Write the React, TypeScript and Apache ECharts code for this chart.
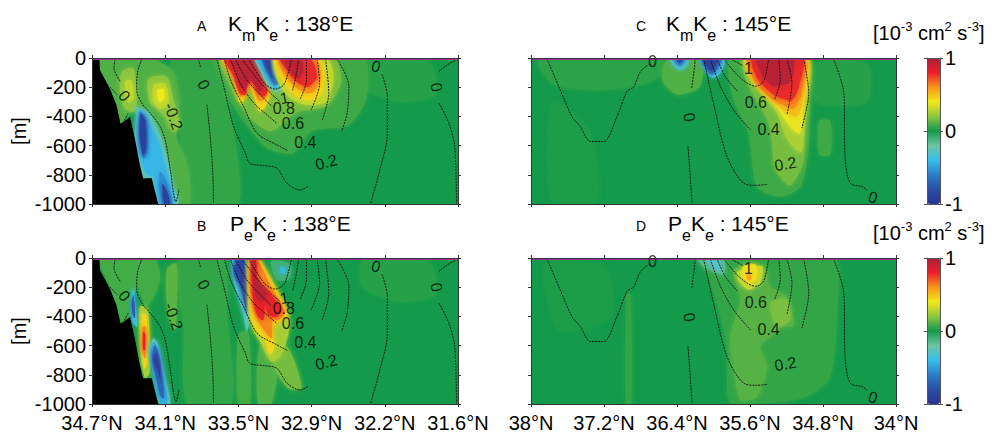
import React, { useEffect, useRef } from "react";
import * as echarts from "echarts";

const FONT = "Liberation Sans";
const xTicksA = ["34.7°N", "34.1°N", "33.5°N", "32.9°N", "32.2°N", "31.6°N"];
const xTicksC = ["38°N", "37.2°N", "36.4°N", "35.6°N", "34.8°N", "34°N"];
const colormap = ["#2e3192", "#2b4fa3", "#2a7ec6", "#38bdea", "#6cc5a0", "#139a4a", "#8cc63f", "#f3e81c", "#f7941d", "#e8202a", "#a92039"];

// Section positions are % along the section, depths in metres (positive down).
const landProfile = [0, 0, 2, 0, 2.2, 84, 4.9, 210, 6.7, 324, 7.8, 450, 10.4, 404, 11.7, 552, 13.1, 735, 14, 826, 16.3, 822, 18.1, 1000, 0, 1000];

const bandsA: [number, number[]][] = [
  [0, [0, 0, 100, 0, 100, 1000, 0, 1000]],
  [0.05, [22, 0, 34, 0, 38, 400, 40, 1000, 26, 1000, 24, 500]],
  [0.03, [74, 20, 92, 30, 94, 250, 84, 300, 74, 200]],
  [0.1, [2.2, 0, 15.8, 0, 22.2, 96, 24, 301, 23.1, 552, 25.9, 712, 26.8, 1000, 21.8, 1000, 20.4, 690, 17.7, 484, 12.2, 347, 9.9, 393, 7.8, 450, 6.7, 324, 4.9, 210, 2.2, 84]],
  [0.2, [8.1, 96, 11.3, 73, 12.2, 256, 11.8, 370, 9, 347, 7.7, 233]],
  [0.3, [9, 164, 10.8, 153, 11.3, 278, 9.9, 301]],
  [0.2, [15.4, 142, 20.4, 130, 22.2, 279, 24, 461, 22.2, 507, 19.5, 393, 15.8, 301]],
  [0.3, [16.8, 187, 20, 176, 20.9, 301, 19, 347, 16.8, 301]],
  [0.4, [17.8, 221, 19.5, 215, 19.7, 279, 18.4, 301]],
  [-0.25, [12, 336, 15.4, 370, 19, 552, 22.2, 872, 23.6, 1000, 18.1, 1000, 16.3, 822, 14, 826, 13.1, 735, 11.7, 552, 12, 393]],
  [-0.42, [13.1, 358, 14.9, 416, 18.1, 575, 20.9, 826, 22.2, 1000, 18.6, 1000, 16.8, 815, 14.9, 792, 13.6, 712, 12.5, 530]],
  [-0.6, [13.1, 370, 15, 427, 15.1, 644, 14, 690, 12.9, 552]],
  [-0.55, [18.6, 780, 20, 826, 21.8, 1000, 19.3, 1000, 18.4, 872]],
  [-0.88, [13.3, 381, 14.5, 427, 14.8, 621, 14, 667, 13.1, 552]],
  [-0.88, [19.3, 860, 20.9, 941, 21.3, 1000, 19.7, 1000]],
  [0.07, [34, 0, 74, 0, 75, 270, 70, 460, 60, 500, 55, 650, 48, 620, 42, 450, 38, 300]],
  [0.16, [35.4, 0, 66, 0, 68, 170, 64, 330, 56, 370, 49, 500, 44, 430, 40, 300]],
  [0.45, [35.4, 0, 45, 0, 46.8, 128, 48.6, 242, 47.3, 333, 45.9, 368, 44.5, 288, 43, 185, 42.3, 242, 40.9, 310, 40, 288, 38.6, 151]],
  [0.6, [36, 0, 45, 0, 46.5, 120, 48, 225, 46.8, 290, 45.4, 290, 44.1, 190, 43.2, 160, 42, 230, 40.6, 265, 39.5, 190, 37.8, 90]],
  [0.78, [36.3, 0, 45, 0, 46.8, 128, 48, 220, 47, 265, 45.4, 240, 43.6, 162, 42.7, 174, 41.8, 253, 40.4, 242, 38.6, 120]],
  [0.95, [37.2, 0, 44.5, 0, 45.4, 82, 46.8, 196, 45.9, 231, 44.1, 162, 43.2, 139, 41.8, 208, 40.4, 196, 39.1, 82]],
  [-0.2, [44.5, 0, 50, 0, 50.4, 116, 52.3, 196, 50.5, 235, 48, 190, 46, 90]],
  [-0.4, [45, 0, 49.1, 0, 50, 105, 51.8, 196, 50, 208, 48.2, 151, 46.4, 71]],
  [-0.7, [46.4, 0, 48.6, 0, 49.5, 105, 50.9, 174, 50, 185, 48.2, 116]],
  [-0.9, [47, 0, 48.6, 0, 49, 90, 49.8, 150, 48.5, 100]],
  [0.3, [50, 0, 64, 0, 66, 128, 64, 300, 58.6, 320, 54, 270, 51, 170]],
  [0.45, [50, 0, 61.8, 0, 63.4, 128, 62.3, 265, 58.6, 288, 55, 242, 52.7, 174, 50, 59]],
  [0.6, [51, 0, 61, 0, 62.5, 128, 60.5, 231, 58.2, 237, 55, 185, 52.3, 105]],
  [0.78, [51.4, 0, 59.5, 0, 61.5, 130, 59.1, 196, 55.9, 162, 53.2, 82]],
  [0.95, [52.3, 0, 56.8, 0, 57.7, 82, 56.4, 139, 54.1, 94]],
];

const bandsB: [number, number[]][] = [
  [0, [0, 0, 100, 0, 100, 1000, 0, 1000]],
  [0.05, [24, 0, 36, 0, 37, 400, 38, 1000, 26, 1000, 25, 500]],
  [0.03, [74, 20, 92, 30, 94, 250, 84, 300, 74, 200]],
  [0.08, [2.2, 0, 16.8, 0, 18.6, 151, 15, 333, 12.2, 196, 10.4, 402, 8.1, 436, 4.9, 196]],
  [0.12, [20.4, 82, 23.1, 37, 23.1, 402, 22.7, 493, 20.9, 402]],
  [-0.4, [11.3, 201, 12, 333, 12.4, 470, 11.1, 436, 10.6, 310]],
  [-0.75, [11.3, 253, 11.7, 333, 11.7, 413, 11.1, 390, 10.8, 310]],
  [0.25, [13.1, 333, 15.1, 345, 15.8, 584, 15.7, 790, 14.5, 824, 13.6, 721, 13.1, 562]],
  [0.45, [13.8, 379, 14.8, 390, 15.1, 584, 15.1, 721, 14.3, 756, 13.6, 584]],
  [0.62, [13.8, 470, 14.6, 470, 14.8, 630, 14.5, 687, 13.8, 653]],
  [0.8, [14, 505, 14.5, 516, 14.5, 630, 14, 630]],
  [-0.25, [16.8, 550, 18.1, 596, 20, 813, 21.3, 1000, 18.6, 1000, 17.2, 858, 15.7, 630]],
  [-0.45, [16.9, 573, 18.1, 630, 19.5, 824, 20.6, 1000, 18.8, 1000, 17.2, 813, 16, 653]],
  [-0.7, [17.2, 596, 18.4, 676, 19.3, 836, 19.7, 961, 18.8, 950, 17.2, 790, 16.4, 676]],
  [-0.9, [17.5, 642, 18.4, 733, 18.8, 858, 18.1, 790, 16.9, 699]],
  [0.08, [40, 527, 42.7, 505, 43.2, 1000, 40, 1000]],
  [0.1, [45.9, 600, 50.9, 600, 49.1, 1000, 45.4, 1000]],
  [0.16, [49.1, 596, 53.6, 619, 57.3, 890, 53.6, 890, 50, 755]],
  [-0.3, [38.6, 0, 41.3, 0, 43.2, 208, 43.2, 390, 42.3, 505, 41.3, 390, 39.5, 231, 38.2, 94]],
  [-0.6, [39.2, 0, 41.3, 0, 42.7, 208, 42.3, 390, 40.9, 231, 38.6, 105]],
  [-0.88, [40, 0, 41.3, 0, 42.4, 208, 42.1, 356, 40.9, 208, 39, 94]],
  [0.25, [42.7, 0, 45.4, 0, 51.8, 276, 54.1, 436, 51.8, 665, 49.1, 710, 46.4, 596, 43.2, 436]],
  [0.45, [43, 0, 45.3, 0, 50, 208, 53.5, 379, 51.8, 427, 49.5, 470, 49.8, 619, 48.6, 665, 47.3, 573, 44.5, 482, 43.2, 368]],
  [0.62, [43.3, 0, 45, 0, 49.1, 208, 52.7, 368, 50.9, 424, 49.3, 424, 49.1, 550, 48, 527, 45, 413, 43.4, 276]],
  [0.8, [43.6, 0, 44.7, 0, 45.4, 162, 48.6, 242, 51.8, 356, 50.4, 402, 48.2, 390, 47.3, 310, 46.8, 424, 45.4, 402, 44.1, 299]],
  [0.95, [43.8, 0, 44.7, 0, 45, 139, 47.7, 242, 46.8, 299, 45, 276, 44.1, 162]],
  [-0.1, [49, 20, 54.1, 40, 54.1, 139, 50.5, 151]],
  [-0.42, [51.4, 66, 52.7, 66, 52.9, 105, 51.6, 105]],
];

const bandsC: [number, number[]][] = [
  [0, [0, 0, 100, 0, 100, 1000, 0, 1000]],
  [0.04, [2, 0, 36, 0, 34, 150, 20, 220, 6, 180]],
  [0.02, [6, 300, 16, 500, 18, 1000, 6, 1000]],
  [0.1, [37, 20, 47, 20, 46, 200, 40, 250, 36, 150]],
  [0.07, [54.6, 0, 76, 0, 76.5, 286, 76, 629, 73.8, 881, 68.3, 950, 61.9, 881, 59.6, 515, 55.5, 286]],
  [0.07, [79, 430, 82, 430, 82, 660, 79, 660]],
  [0.03, [78, 40, 92, 40, 92, 300, 78, 300]],
  [0.16, [58.2, 0, 76, 0, 76, 301, 75, 507, 74.6, 712, 71, 872, 66.9, 758, 66, 575, 65, 438, 59.1, 164]],
  [0.26, [58.6, 0, 75.5, 0, 75, 416, 74.2, 644, 72.3, 621, 69.6, 530, 67.3, 370, 60, 142]],
  [0.38, [59.1, 0, 75.3, 0, 74.6, 347, 73.6, 520, 71, 470, 67.3, 336, 60.5, 142]],
  [0.5, [59.1, 0, 75.3, 0, 74.4, 300, 73, 400, 70.5, 380, 67.3, 316, 60.5, 142]],
  [0.62, [59.5, 0, 74.8, 0, 73.9, 256, 71.9, 345, 69.1, 320, 66.4, 290, 61.4, 164]],
  [0.78, [60.5, 0, 74.4, 0, 73.2, 210, 71.4, 290, 69.1, 279, 66.8, 256, 62.3, 153]],
  [0.95, [61.8, 0, 71.9, 0, 71, 164, 68.2, 187, 65.9, 187, 63.7, 130]],
  [-0.35, [46.3, 0, 53.1, 0, 51.8, 107, 49.8, 137, 48.1, 96, 46.8, 50]],
  [-0.65, [46.6, 0, 52.2, 0, 50.9, 84, 49.5, 114, 47.9, 73]],
  [-0.9, [47.2, 0, 51.3, 0, 50.4, 62, 49.5, 91, 48.1, 55]],
  [-0.3, [38.2, 0, 43.2, 0, 42.5, 60, 40.9, 85, 39, 55]],
  [-0.55, [39.2, 0, 42.3, 0, 41.5, 45, 40.8, 55, 39.8, 40]],
  [-0.85, [39.8, 0, 41.8, 0, 41, 35, 40.3, 30]],
];

const bandsD: [number, number[]][] = [
  [0, [0, 0, 100, 0, 100, 1000, 0, 1000]],
  [0.02, [4, 50, 20, 60, 22, 400, 8, 500]],
  [0.05, [26.2, 250, 27.3, 250, 27.5, 1000, 26, 1000]],
  [0.05, [45.5, 0, 82.9, 0, 83.9, 355, 82, 812, 75.6, 950, 64.7, 995, 54.6, 995, 53.7, 652, 51.9, 400, 48.2, 103]],
  [0.11, [55.5, 80, 63.7, 57, 65.6, 194, 70.1, 263, 72, 469, 69.2, 469, 65.6, 538, 62.8, 606, 64.7, 744, 61.9, 950, 57.4, 972, 55.5, 767, 54.6, 538, 57.4, 286]],
  [0.17, [65.6, 309, 70.1, 286, 71, 423, 67.4, 469]],
  [0.3, [56.6, 92, 63.3, 57, 62.8, 172, 59.6, 217, 56.9, 160]],
  [0.42, [58.2, 57, 61.5, 46, 61.7, 137, 59.6, 176, 58.1, 126]],
  [0.55, [59.2, 114, 60.3, 114, 60.3, 149, 59.2, 149]],
  [-0.15, [45.5, 0, 52.8, 0, 52.8, 114, 50, 92, 47.3, 57]],
  [-0.3, [48.2, 20, 51.4, 20, 51.9, 92, 50, 69]],
];

const contoursAB: number[][] = [
  [6.3, 11, 6, 69, 7.7, 160],
  [4.9, 199, 6.9, 252],
  [9.9, 378, 8.8, 428],
  [13.6, 7, 12.4, 103, 12.2, 217, 13.6, 309, 16.3, 389, 18.6, 469, 20, 561, 21.4, 767, 22.3, 927, 22.9, 984, 23.8, 899],
  [29.1, 7, 29.7, 69],
  [31.4, 320, 32.3, 538, 33, 789, 33.2, 995],
  [34.1, 7, 36.1, 206, 38.7, 469, 41.9, 652, 43.1, 721, 46.9, 737, 50.5, 755, 53.3, 858, 56.9, 904, 58.9, 881],
  [36.1, 7, 38.2, 172, 41.4, 332, 45.1, 515, 50.5, 595, 53.5, 634],
  [37.8, 7, 40.5, 172, 44.2, 309, 47.8, 389, 50.4, 446],
  [39.1, 7, 42.3, 149, 45.1, 229, 49.2, 332],
  [41, 7, 44.2, 114, 47.8, 217, 51.3, 297],
  [42.8, 7, 46, 137, 47.8, 190, 50.1, 213, 52.4, 183, 53.7, 92, 54.5, 7],
  [56.5, 7, 55.6, 137, 54.8, 222],
  [58.6, 7, 58.6, 149, 56.9, 281],
  [61.5, 7, 62.2, 172, 59.9, 355],
  [63.8, 7, 64.7, 240, 62.9, 428],
  [67, 7, 70.2, 194, 69.7, 378, 68.2, 503],
  [79.3, 114, 80.7, 263, 80.7, 515, 78.4, 789, 76.1, 995],
  [99.8, 7, 97.1, 46, 94.8, 92],
  [94.8, 309, 97.5, 446, 99.1, 606, 99.6, 995],
];
const contoursCD: number[][] = [
  [4.4, 7, 7.6, 194, 11.2, 400, 13.5, 469, 16.3, 572, 19.9, 572, 23.6, 400, 26.3, 229, 28.1, 199, 30, 92, 32.2, 46],
  [45, 7, 44.6, 103, 44, 206],
  [43, 606, 43.7, 835, 44.1, 995],
  [47.3, 7, 50, 309, 53.7, 675, 58.3, 858, 61.9, 872, 64.9, 865],
  [49.1, 7, 51.9, 194, 55.5, 355, 60.1, 492],
  [51, 7, 53.2, 126, 56.6, 229],
  [52.8, 7, 56.4, 114, 59.2, 172, 61.5, 194, 63.7, 160, 65.1, 7],
  [55.1, 11, 58.1, 53],
  [67.9, 7, 68.3, 149, 66.7, 286],
  [70.1, 7, 71.5, 172, 70.1, 389],
  [74.7, 7, 76.1, 240, 74.2, 480],
  [82.9, 7, 85.7, 240, 86.1, 698, 87.5, 858, 90.7, 881, 92.1, 904],
];
const labelsAB: [number, number, string, number][] = [
  [8.8, 259, "0", -50], [22.3, 400, "-0.2", -70], [30.5, 183, "0", -65], [52.6, 275, "1", 10], [52.4, 343, "0.8", 0],
  [54.9, 451, "0.6", 0], [58.3, 577, "0.4", 0], [64, 714, "0.2", 15], [77.6, 57, "0", -15], [94.1, 199, "0", -80],
];
const labelsCD: [number, number, string, number][] = [
  [33.3, 27, "0", 0], [59.6, 69, "1", 0], [61.6, 302, "0.6", 0], [65.1, 492, "0.4", 0], [69.7, 725, "0.2", 10], [43.4, 405, "0", -80], [93.7, 954, "0", -15],
];
const surfaceLine = [0, 7, 100, 7];

const panels = [
  { left: 92, top: 58, width: 366, bands: bandsA, contours: contoursAB, labels: labelsAB, ticks: null, land: true, yLabels: true },
  { left: 92, top: 258, width: 366, bands: bandsB, contours: contoursAB, labels: labelsAB, ticks: xTicksA, land: true, yLabels: true },
  { left: 531, top: 58, width: 365, bands: bandsC, contours: contoursCD, labels: labelsCD, ticks: null, land: false, yLabels: false },
  { left: 531, top: 258, width: 365, bands: bandsD, contours: contoursCD, labels: labelsCD, ticks: xTicksC, land: false, yLabels: false },
];
const titles = [
  { letter: "A", lx: 197, ly: 19, x: 228, y: 13, sym: "K", sub: "m", rest: "138°E" },
  { letter: "B", lx: 197, ly: 219, x: 230, y: 213, sym: "P", sub: "e", rest: "138°E" },
  { letter: "C", lx: 636, ly: 19, x: 666, y: 13, sym: "K", sub: "m", rest: "145°E" },
  { letter: "D", lx: 636, ly: 219, x: 668, y: 213, sym: "P", sub: "e", rest: "145°E" },
];

const pairs = (f: number[]) => {
  const out: number[][] = [];
  for (let i = 0; i < f.length; i += 2) out.push([f[i], -f[i + 1]]);
  return out;
};
const line = { lineStyle: { color: "#333", width: 1 } };

function buildOption() {
  const grid: any[] = [], xAxis: any[] = [], yAxis: any[] = [], series: any[] = [], title: any[] = [];
  const mapTop: number[] = [], mapBottom: number[] = [];
  panels.forEach((p, i) => {
    grid.push({ left: p.left, top: p.top, width: p.width, height: 146 });
    const xBase = { type: "value", min: 0, max: 100, interval: 20, gridIndex: i, z: 10, splitLine: { show: false }, axisLine: { ...line, onZero: false }, axisTick: { ...line, length: 3, inside: false } };
    xAxis.push({
      ...xBase, position: "bottom",
      axisLabel: p.ticks ? { show: true, fontFamily: FONT, fontSize: 20, color: "#000", margin: 9, formatter: (v: number) => (p.ticks as string[])[Math.round(v / 20)] } : { show: false },
    });
    xAxis.push({ ...xBase, position: "top", axisLabel: { show: false } });
    const yBase = { type: "value", min: -1000, max: 0, interval: 200, gridIndex: i, z: 10, splitLine: { show: false }, axisLine: { ...line, onZero: false }, axisTick: { ...line, length: 3 } };
    yAxis.push({
      ...yBase, position: "left",
      name: p.yLabels ? "[m]" : "", nameLocation: "middle", nameRotate: 90, nameGap: 63, nameTextStyle: { fontFamily: FONT, fontSize: 20, color: "#000" },
      axisLabel: p.yLabels ? { show: true, fontFamily: FONT, fontSize: 20, color: "#000", margin: 6, formatter: (v: number) => String(v) } : { show: false },
    });
    yAxis.push({ ...yBase, position: "right", axisLabel: { show: false } });
    const ax = { xAxisIndex: 2 * i, yAxisIndex: 2 * i };
    (p.top === 58 ? mapTop : mapBottom).push(series.length);
    series.push({
      type: "custom", ...ax, clip: true, silent: true, z: 2,
      data: p.bands.map((b, k) => [b[0], k]),
      renderItem: (params: any, api: any) => {
        const color = api.visual("color");
        const soft = params.dataIndex > 0;
        return {
          type: "polygon",
          shape: { points: pairs(p.bands[params.dataIndex][1]).map((c) => api.coord(c)), smooth: soft ? 0.25 : 0 },
          style: { fill: color, shadowBlur: soft ? 5 : 0, shadowColor: color },
        };
      },
    });
    if (p.land) {
      series.push({
        type: "custom", ...ax, clip: true, silent: true, z: 3, data: [[0, 0]],
        renderItem: (_: any, api: any) => ({ type: "polygon", shape: { points: pairs(landProfile).map((c) => api.coord(c)) }, style: { fill: "#000" } }),
      });
    }
    p.contours.forEach((c) => {
      series.push({
        type: "line", ...ax, z: 4, silent: true, showSymbol: false, smooth: 0.3, data: pairs(c),
        lineStyle: { color: "#111", width: 0.9, type: [2, 1] },
      });
    });
    series.push({
      type: "line", ...ax, z: 5, silent: true, showSymbol: false, data: pairs(surfaceLine),
      lineStyle: { color: "#a2359a", width: 2 },
    });
    series.push({
      type: "scatter", ...ax, z: 6, silent: true, symbolSize: 0,
      data: p.labels.map((l) => ({
        value: [l[0], -l[1]],
        label: { show: true, position: "inside", formatter: l[2], rotate: l[3], fontFamily: FONT, fontSize: 16, color: "#000" },
      })),
    });
  });
  // colour bars
  [58, 258].forEach((top, k) => {
    const g = 4 + k;
    grid.push({ left: 927, top, width: 13, height: 146 });
    const xb = { type: "value", min: 0, max: 1, gridIndex: g, z: 10, axisLine: { lineStyle: { color: "#555", width: 1 }, onZero: false }, axisTick: { show: false }, axisLabel: { show: false }, splitLine: { show: false } };
    xAxis.push({ ...xb, position: "bottom" }, { ...xb, position: "top" });
    const yb = { type: "value", min: -1, max: 1, interval: 1, gridIndex: g, z: 10, axisLine: { lineStyle: { color: "#555", width: 1 }, onZero: false }, axisTick: { length: 3, lineStyle: { color: "#555" } }, splitLine: { show: false } };
    yAxis.push({ ...yb, position: "right", axisLabel: { show: true, fontFamily: FONT, fontSize: 20, color: "#000", margin: 5 } }, { ...yb, position: "left", axisLabel: { show: false } });
  });
  titles.forEach((t) => {
    title.push({ text: t.letter, left: t.lx, top: t.ly, padding: 0, textStyle: { fontFamily: FONT, fontSize: 14, fontWeight: "normal", color: "#000" } });
    title.push({
      text: `{k|${t.sym}}{s|${t.sub}}{k|K}{s|e}{k| : ${t.rest}}`, left: t.x, top: t.y, padding: 0,
      textStyle: {
        rich: {
          k: { fontFamily: FONT, fontSize: 21, fontWeight: "normal", color: "#000", verticalAlign: "top", lineHeight: 30 },
          s: { fontFamily: FONT, fontSize: 16, fontWeight: "normal", color: "#000", verticalAlign: "bottom", lineHeight: 30 },
        },
      },
    });
  });
  [20, 220].forEach((top) => {
    title.push({
      text: "{k|[10}{u|-3}{k| cm}{u|2}{k| s}{u|-3}{k|]}", left: 873, top, padding: 0,
      textStyle: {
        rich: {
          k: { fontFamily: FONT, fontSize: 20, fontWeight: "normal", color: "#000", verticalAlign: "bottom", lineHeight: 23 },
          u: { fontFamily: FONT, fontSize: 13, fontWeight: "normal", color: "#000", verticalAlign: "top", lineHeight: 23 },
        },
      },
    });
  });
  const vm = (top: number, idx: number[]) => ({
    type: "continuous", min: -1, max: 1, dimension: 0, seriesIndex: idx, left: 927, top, itemWidth: 13, itemHeight: 146,
    calculable: false, hoverLink: false, padding: 0, text: null, showLabel: false, z: 1, inRange: { color: colormap },
  });
  return { animation: false, backgroundColor: "#fff", title, grid, xAxis, yAxis, series, visualMap: [vm(58, mapTop), vm(258, mapBottom)] };
}

export default function App() {
  const ref = useRef<HTMLDivElement>(null);
  useEffect(() => {
    document.body.style.margin = "0";
    const chart = echarts.init(ref.current!, null, { renderer: "svg" });
    chart.setOption(buildOption() as any);
    return () => chart.dispose();
  }, []);
  return <div ref={ref} style={{ width: 998, height: 433 }} />;
}
